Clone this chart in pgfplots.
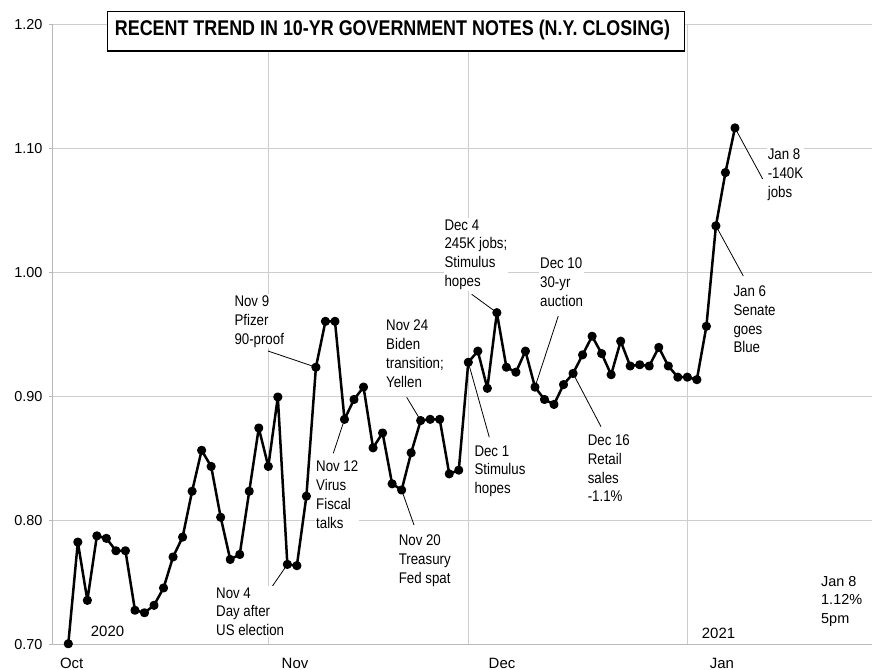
\documentclass[border=0pt]{standalone}
\usepackage{fontspec}
\setmainfont{Liberation Sans}
\newfontfamily\narrowfont{Liberation Sans}[FakeStretch=0.86]
\newfontfamily\titlefont{Liberation Sans Bold}[FakeStretch=0.84]
\usepackage{pgfplots}
\usepackage{pgfplotstable}
\pgfplotsset{compat=1.18}
\definecolor{gridgray}{RGB}{205,205,205}
\definecolor{axgray}{RGB}{185,185,185}

\pgfplotstableread{
i y
0 0.701
1 0.783
2 0.736
3 0.788
4 0.786
5 0.776
6 0.776
7 0.728
8 0.726
9 0.732
10 0.746
11 0.771
12 0.787
13 0.824
14 0.857
15 0.844
16 0.803
17 0.769
18 0.773
19 0.824
20 0.875
21 0.844
22 0.900
23 0.765
24 0.764
25 0.820
26 0.924
27 0.961
28 0.961
29 0.882
30 0.898
31 0.908
32 0.859
33 0.871
34 0.830
35 0.825
36 0.855
37 0.881
38 0.882
39 0.882
40 0.838
41 0.841
42 0.928
43 0.937
44 0.907
45 0.968
46 0.924
47 0.920
48 0.937
49 0.908
50 0.898
51 0.894
52 0.910
53 0.919
54 0.934
55 0.949
56 0.935
57 0.918
58 0.945
59 0.925
60 0.926
61 0.925
62 0.940
63 0.925
64 0.916
65 0.916
66 0.914
67 0.957
68 1.038
69 1.081
70 1.117
}\yields

\tikzset{anno/.style={font=\narrowfont\fontsize{15.5}{19}\selectfont, align=left, fill=white, inner sep=1bp, outer sep=0pt, anchor=north west}}
\newcommand\ANN[3]{\node[anno] at ([shift={({#1bp-1.5bp},{-#2bp+6.6bp})}]O) {#3};}

\begin{document}
\begin{tikzpicture}
\begin{axis}[
  scale only axis, width=819bp, height=620bp,
  xmin=-1.607, xmax=84.39, ymin=0.70, ymax=1.20,
  axis x line*=bottom, axis y line*=left,
  axis line style={axgray, line width=1bp, -},
  xtick={21,42,65}, xticklabels={}, xmajorgrids,
  x tick style={draw=none},
  ytick={0.7,0.8,0.9,1.0,1.1,1.2}, ymajorgrids,
  grid style={gridgray, line width=1bp},
  y tick style={axgray, line width=1bp},
  tick align=outside, major tick length=4bp,
  yticklabel style={font=\fontsize{14.5}{17}\selectfont, xshift=-3bp,
    /pgf/number format/fixed, /pgf/number format/fixed zerofill,
    /pgf/number format/precision=2, /pgf/number format/assume math mode=true},
  clip=false,
]
\addplot[black, line width=2.5bp, line join=round, mark=*, mark size=3.3bp, mark options={solid, fill=black}] table[x=i,y=y]{\yields};
\coordinate (TL) at (rel axis cs:0,1);
\coordinate (p23) at (axis cs:23,0.765);
\coordinate (p26) at (axis cs:26,0.924);
\coordinate (p29) at (axis cs:29,0.882);
\coordinate (p35) at (axis cs:35,0.825);
\coordinate (p37) at (axis cs:37,0.881);
\coordinate (p42) at (axis cs:42,0.928);
\coordinate (p45) at (axis cs:45,0.968);
\coordinate (p49) at (axis cs:49,0.908);
\coordinate (p53) at (axis cs:53,0.919);
\coordinate (p68) at (axis cs:68,1.038);
\coordinate (p70) at (axis cs:70,1.117);
\end{axis}
\coordinate (O) at ([shift={(-53bp,25bp)}]TL);

% leader lines
\draw[line width=0.8bp] ([shift={(267.7bp,-593bp)}]O) -- (p23);
\draw[line width=0.8bp] ([shift={(268bp,-351bp)}]O) -- (p26);
\draw[line width=0.8bp] ([shift={(333.3bp,-453.3bp)}]O) -- (p29);
\draw[line width=0.8bp] ([shift={(414bp,-525bp)}]O) -- (p35);
\draw[line width=0.8bp] ([shift={(406.7bp,-397.3bp)}]O) -- (p37);
\draw[line width=0.8bp] ([shift={(489.3bp,-437.3bp)}]O) -- (p42);
\draw[line width=0.8bp] ([shift={(471.7bp,-294.3bp)}]O) -- (p45);
\draw[line width=0.8bp] ([shift={(558.3bp,-316bp)}]O) -- (p49);
\draw[line width=0.8bp] ([shift={(601bp,-426.7bp)}]O) -- (p53);
\draw[line width=0.8bp] ([shift={(743.3bp,-276bp)}]O) -- (p68);
\draw[line width=0.8bp] ([shift={(762.7bp,-179bp)}]O) -- (p70);

% annotations
\ANN{216.7}{593}{Nov 4\\Day after\\US election}
\ANN{235}{301}{Nov 9\\Pfizer\\90-proof}
\ANN{316.7}{466.7}{Nov 12\\Virus\\Fiscal\\talks}
\ANN{399.3}{540}{Nov 20\\Treasury\\Fed spat}
\ANN{386.7}{325.7}{Nov 24\\Biden\\transition;\\Yellen}
\ANN{475}{451}{Dec 1\\Stimulus\\hopes}
\ANN{445}{225}{Dec 4\\245K jobs;\\Stimulus\\hopes}
\ANN{540.7}{263.3}{Dec 10\\30-yr\\auction}
\ANN{588.3}{440}{Dec 16\\Retail\\sales\\-1.1\%}
\ANN{734}{291}{Jan 6\\Senate\\goes\\Blue}
\ANN{768.3}{154.3}{Jan 8\\-140K\\jobs}

% year labels and note
\node[anchor=base west, inner sep=0pt, font=\fontsize{15}{18}\selectfont] at ([shift={(90.7bp,-636.5bp)}]O) {2020};
\node[anchor=base west, inner sep=0pt, font=\fontsize{15}{18}\selectfont] at ([shift={(701.7bp,-638.8bp)}]O) {2021};
\node[anchor=north west, inner sep=0pt, align=left, font=\fontsize{14.5}{18.5}\selectfont] at ([shift={(821bp,-576bp)}]O) {Jan 8\\1.12\%\\5pm};

% month labels
\node[anchor=base, inner sep=0pt, font=\fontsize{15}{18}\selectfont] at ([shift={(71.7bp,-668.5bp)}]O) {Oct};
\node[anchor=base, inner sep=0pt, font=\fontsize{15}{18}\selectfont] at ([shift={(295bp,-668.5bp)}]O) {Nov};
\node[anchor=base, inner sep=0pt, font=\fontsize{15}{18}\selectfont] at ([shift={(502bp,-668.5bp)}]O) {Dec};
\node[anchor=base, inner sep=0pt, font=\fontsize{15}{18}\selectfont] at ([shift={(722bp,-668.5bp)}]O) {Jan};

% title
\draw[line width=1.2bp, fill=white] ([shift={(107.3bp,-11.7bp)}]O) rectangle ([shift={(684.3bp,-51bp)}]O);
\node[anchor=base, inner sep=0pt, font=\titlefont\fontsize{21.4}{24}\selectfont] at ([shift={(392.5bp,-36bp)}]O) {RECENT TREND IN 10-YR GOVERNMENT NOTES (N.Y. CLOSING)};

\pgfresetboundingbox
\path ([shift={(0bp,0bp)}]O) rectangle ([shift={(872bp,-670bp)}]O);
\end{tikzpicture}
\end{document}
